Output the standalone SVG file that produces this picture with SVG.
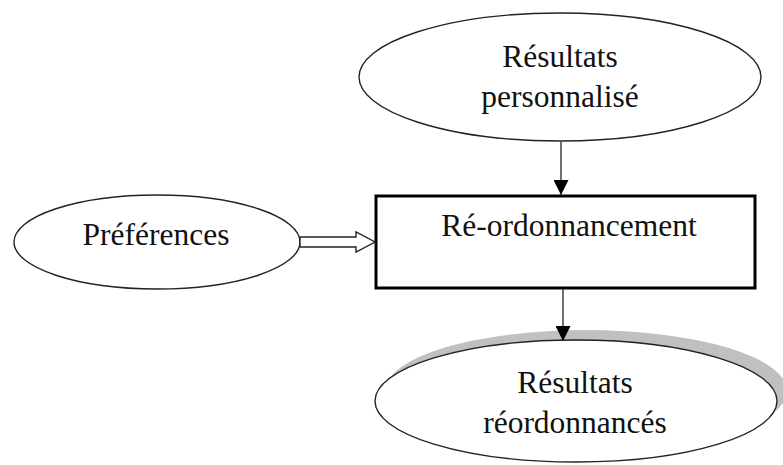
<svg xmlns="http://www.w3.org/2000/svg" width="783" height="465" viewBox="0 0 783 465">
  <defs>
    <marker id="tri" viewBox="0 0 10 10" refX="10" refY="5" markerWidth="17" markerHeight="15" markerUnits="userSpaceOnUse" orient="auto">
      <path d="M0,0 L10,5 L0,10 z" fill="#000"/>
    </marker>
  </defs>
  <style>
    .oval { fill: #fff; stroke: #222; stroke-width: 1.4; }
    .box { fill: #fff; stroke: #000; stroke-width: 3; }
    .lbl { font-family: "Liberation Serif", "Times New Roman", serif; font-size: 31.5px; fill: #111; text-anchor: middle; }
    .edge { stroke: #333; stroke-width: 1.4; fill: none; }
  </style>

  <g id="node-resultats-personnalise">
    <ellipse class="oval" cx="560" cy="77" rx="201" ry="64"/>
    <text class="lbl" x="560" y="67">Résultats</text>
    <text class="lbl" x="560" y="107">personnalisé</text>
  </g>

  <g id="node-preferences">
    <ellipse class="oval" cx="157" cy="242" rx="143" ry="47"/>
    <text class="lbl" x="156" y="245">Préférences</text>
  </g>

  <g id="node-reordonnancement">
    <rect class="box" x="376" y="196" width="379" height="92"/>
    <text class="lbl" x="569" y="236">Ré-ordonnancement</text>
  </g>

  <g id="node-resultats-reordonnances">
    <!-- drop shadow, offset up and to the right -->
    <ellipse cx="586" cy="391" rx="201" ry="61" fill="#c0c0c0"/>
    <ellipse class="oval" cx="576" cy="401" rx="201" ry="61"/>
    <text class="lbl" x="575" y="393">Résultats</text>
    <text class="lbl" x="575" y="433">réordonnancés</text>
  </g>

  <g id="connectors">
    <line class="edge" x1="561" y1="142" x2="561" y2="195" marker-end="url(#tri)"/>
    <line class="edge" x1="563" y1="289" x2="563" y2="341" marker-end="url(#tri)"/>
    <polygon points="300,237 356,237 356,232 375,242 356,252 356,247 300,247" fill="#fff" stroke="#222" stroke-width="1.4"/>
  </g>
</svg>
